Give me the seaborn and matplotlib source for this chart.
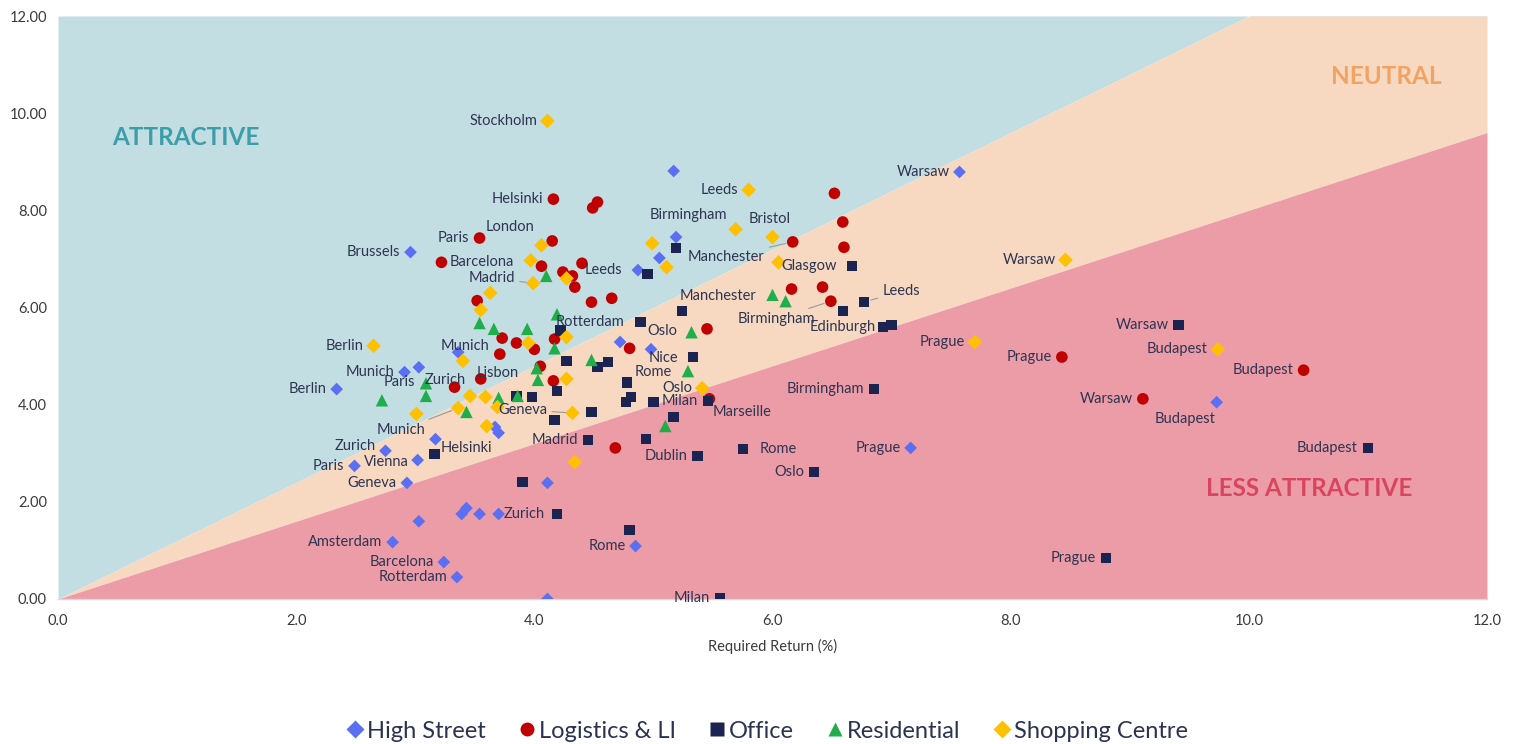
import numpy as np
import pandas as pd
import matplotlib
matplotlib.use("Agg")
import matplotlib.pyplot as plt
from matplotlib.lines import Line2D
import seaborn as sns

# ---- data: required return (%) vs. expected return (%) ----
hs_x = [5.17, 7.57, 2.96, 5.19, 5.05, 4.87, 4.72, 4.98, 2.34, 2.91, 3.03, 3.36, 3.70, 3.67, 3.17,
        2.75, 3.02, 2.49, 2.93, 3.03, 3.39, 3.43, 3.54, 3.70, 4.11, 2.81, 3.24, 3.35, 4.11, 4.85,
        7.16, 9.73]
hs_y = [8.81, 8.79, 7.14, 7.45, 7.02, 6.77, 5.29, 5.14, 4.32, 4.67, 4.77, 5.08, 3.42, 3.54, 3.29,
        3.05, 2.86, 2.74, 2.39, 1.60, 1.75, 1.87, 1.75, 1.75, 2.39, 1.17, 0.76, 0.45, 0.00, 1.09,
        3.11, 4.05]
hs_lbl = ["", "Warsaw", "Brussels", "", "", "", "", "Nice", "Berlin", "Munich", "Paris", "", "", "", "",
          "Zurich", "Vienna", "Paris", "Geneva", "", "", "", "", "Zurich", "", "Amsterdam", "Barcelona",
          "Rotterdam", "", "Rome", "Prague", "Budapest"]

lg_x = [4.16, 4.49, 4.53, 3.54, 4.15, 3.22, 4.06, 4.24, 4.32, 4.34, 4.40, 3.52, 4.48, 4.65, 6.52,
        6.59, 6.60, 6.17, 6.16, 6.42, 6.49, 5.45, 3.73, 3.85, 4.00, 3.71, 4.17, 4.05, 3.55, 3.33,
        4.16, 4.80, 5.47, 4.68, 8.43, 10.46, 9.11]
lg_y = [8.23, 8.05, 8.17, 7.43, 7.37, 6.93, 6.85, 6.73, 6.65, 6.42, 6.91, 6.14, 6.11, 6.19, 8.35,
        7.76, 7.24, 7.35, 6.38, 6.42, 6.13, 5.56, 5.37, 5.27, 5.14, 5.04, 5.35, 4.79, 4.53, 4.36,
        4.49, 5.16, 4.12, 3.11, 4.98, 4.71, 4.12]
lg_lbl = ["Helsinki", "", "", "Paris", "London", "Barcelona", "", "", "Leeds", "", "", "", "", "", "",
          "", "", "Manchester", "", "", "Birmingham", "", "", "", "", "Munich", "", "", "Lisbon", "",
          "", "", "Marseille", "", "Prague", "Budapest", "Warsaw"]

of_x = [5.19, 4.95, 6.67, 6.77, 6.59, 6.93, 7.00, 5.24, 4.89, 4.22, 4.27, 4.53, 4.62, 4.19, 3.98,
        3.85, 4.17, 4.48, 4.45, 3.16, 5.33, 4.78, 4.81, 4.77, 5.00, 5.17, 5.46, 4.94, 5.37, 5.75,
        6.35, 6.85, 3.90, 4.19, 4.80, 5.56, 9.41, 11.00, 8.80]
of_y = [7.22, 6.69, 6.85, 6.11, 5.93, 5.60, 5.64, 5.93, 5.70, 5.53, 4.90, 4.77, 4.88, 4.28, 4.16,
        4.18, 3.68, 3.85, 3.27, 2.98, 4.98, 4.46, 4.16, 4.05, 4.05, 3.74, 4.07, 3.29, 2.94, 3.09,
        2.61, 4.32, 2.41, 1.75, 1.42, 0.02, 5.64, 3.11, 0.84]
of_lbl = ["", "", "", "Leeds", "", "Edinburgh", "", "Manchester", "Oslo", "Rotterdam", "", "", "", "", "",
          "", "", "", "Madrid", "Helsinki", "", "Rome", "", "", "", "", "Milan", "", "Dublin", "Rome",
          "Oslo", "Birmingham", "", "", "", "Milan", "Warsaw", "Budapest", "Prague"]

rs_x = [4.10, 4.19, 3.54, 3.66, 3.94, 4.17, 4.48, 4.02, 4.03, 3.09, 3.09, 2.72, 3.86, 3.70, 3.43,
        6.00, 6.11, 5.32, 5.29, 5.10]
rs_y = [6.65, 5.86, 5.68, 5.56, 5.56, 5.16, 4.92, 4.75, 4.51, 4.44, 4.18, 4.09, 4.18, 4.14, 3.85,
        6.26, 6.13, 5.49, 4.69, 3.56]
rs_lbl = ["", "", "", "", "", "", "", "", "", "Zurich", "", "", "", "", "",
          "", "", "", "", ""]

sc_x = [4.11, 4.06, 3.97, 3.99, 4.27, 3.63, 5.80, 5.69, 6.00, 4.99, 5.11, 6.05, 3.55, 2.65, 3.40,
        3.95, 4.27, 4.27, 3.46, 3.59, 3.36, 3.69, 3.01, 3.60, 4.32, 4.34, 5.41, 8.46, 7.70, 9.74]
sc_y = [9.84, 7.28, 6.97, 6.50, 6.60, 6.30, 8.42, 7.61, 7.45, 7.32, 6.83, 6.93, 5.95, 5.21, 4.90,
        5.27, 5.39, 4.53, 4.18, 4.16, 3.93, 3.95, 3.81, 3.56, 3.83, 2.82, 4.34, 6.98, 5.29, 5.14]
sc_lbl = ["Stockholm", "", "", "Madrid", "", "", "Leeds", "Birmingham", "Bristol", "", "", "Glasgow", "",
          "Berlin", "", "", "", "", "", "", "Munich", "", "", "", "Geneva", "", "Oslo", "Warsaw",
          "Prague", "Budapest"]

sectors = ["High Street", "Logistics & LI", "Office", "Residential", "Shopping Centre"]

# ---- styling ----
colors = {"High Street": "#5a6ff2", "Logistics & LI": "#c00000", "Office": "#1b2450",
          "Residential": "#1fae4a", "Shopping Centre": "#ffc000"}
markers = {"High Street": "D", "Logistics & LI": "o", "Office": "s",
           "Residential": "^", "Shopping Centre": "D"}
sizes = {"High Street": 42, "Logistics & LI": 70, "Office": 56,
         "Residential": 80, "Shopping Centre": 56}

# label placement: (dx px, dy px, ha, leader line)
placement = {
    ("High Street", 7): (12, -9, "center", False),
    ("High Street", 10): (-4, -15, "right", False),
    ("High Street", 15): (-10, 5, "right", False),
    ("High Street", 16): (-9, -2, "right", False),
    ("High Street", 23): (5, 0, "left", False),
    ("High Street", 31): (-32, -17, "center", False),
    ("Logistics & LI", 4): (-18, 14, "right", False),
    ("Logistics & LI", 5): (8, 0, "left", False),
    ("Logistics & LI", 8): (12, 6, "left", False),
    ("Logistics & LI", 17): (-28, -15, "right", True),
    ("Logistics & LI", 20): (-16, -18, "right", True),
    ("Logistics & LI", 25): (-10, 8, "right", False),
    ("Logistics & LI", 28): (17, 6, "center", False),
    ("Logistics & LI", 32): (3, -13, "left", False),
    ("Office", 3): (18, 11, "left", True),
    ("Office", 5): (-7, 0, "right", False),
    ("Office", 7): (36, 15, "center", False),
    ("Office", 8): (7, -9, "left", False),
    ("Office", 9): (-5, 8, "left", False),
    ("Office", 19): (6, 6, "left", False),
    ("Office", 21): (7, 10, "left", False),
    ("Office", 29): (17, 0, "left", False),
    ("Residential", 9): (19, 3, "center", False),
    ("Shopping Centre", 3): (-18, 5, "right", True),
    ("Shopping Centre", 7): (-8, 14, "right", False),
    ("Shopping Centre", 8): (-3, 18, "center", False),
    ("Shopping Centre", 11): (3, -4, "left", False),
    ("Shopping Centre", 20): (-33, -22, "right", True),
    ("Shopping Centre", 24): (-25, 3, "right", True),
}

frames = []
for name, xs, ys, lb in zip(sectors, [hs_x, lg_x, of_x, rs_x, sc_x], [hs_y, lg_y, of_y, rs_y, sc_y],
                            [hs_lbl, lg_lbl, of_lbl, rs_lbl, sc_lbl]):
    frames.append(pd.DataFrame({"ret": xs, "yld": ys, "sector": name, "label": lb,
                                "idx": range(len(xs))}))
df = pd.concat(frames, ignore_index=True)

sns.set_theme(style="white")
plt.rcParams["font.family"] = ["Lato", "DejaVu Sans"]

fig = plt.figure(figsize=(15.15, 7.44), dpi=100)
ax = fig.add_axes([58 / 1515, 145 / 744, 1429 / 1515, 583 / 744])

# attractiveness zones
xs = np.linspace(0, 12, 200)
ax.fill_between(xs, 1.2 * xs, 12, color="#c3dee2", lw=0, zorder=0)
ax.fill_between(xs, 0.8 * xs, np.minimum(1.2 * xs, 12), color="#f7d9c1", lw=0, zorder=0)
ax.fill_between(xs, 0, 0.8 * xs, color="#ec9ca7", lw=0, zorder=0)

for name in sectors:
    sub = df[df["sector"] == name]
    sns.scatterplot(data=sub, x="ret", y="yld", color=colors[name], marker=markers[name],
                    s=sizes[name], edgecolor="none", linewidth=0, ax=ax, zorder=3, legend=False)

label_color = "#2e3452"
for _, r in df[df["label"] != ""].iterrows():
    dx, dy, ha, leader = placement.get((r["sector"], r["idx"]), (-10, 0, "right", False))
    kw = {}
    if leader:
        kw["arrowprops"] = dict(arrowstyle="-", color="#9a9a9a", lw=0.8, shrinkA=1, shrinkB=5)
    ax.annotate(r["label"], (r["ret"], r["yld"]), xytext=(dx, dy), textcoords="offset pixels",
                ha=ha, va="center", fontsize=10.5, color=label_color, zorder=4, **kw)

# zone titles
ax.text(1.07, 9.5, "ATTRACTIVE", color="#3b9ea8", fontsize=17.5, fontweight="bold",
        ha="center", va="center", zorder=2)
ax.text(11.15, 10.75, "NEUTRAL", color="#f2a263", fontsize=17.5, fontweight="bold",
        ha="center", va="center", zorder=2)
ax.text(10.51, 2.27, "LESS ATTRACTIVE", color="#d8455f", fontsize=17.5, fontweight="bold",
        ha="center", va="center", zorder=2)

ax.set_xlim(0, 12)
ax.set_ylim(0, 12)
ax.set_xticks(np.arange(0, 12.1, 2))
ax.set_yticks(np.arange(0, 12.1, 2))
ax.set_xticklabels([f"{v:.1f}" for v in np.arange(0, 12.1, 2)])
ax.set_yticklabels([f"{v:.2f}" for v in np.arange(0, 12.1, 2)])
ax.tick_params(axis="both", length=0, labelsize=10.5, colors="#3a3a3a")
ax.tick_params(axis="x", pad=11)
ax.tick_params(axis="y", pad=8)
ax.set_xlabel("Required Return (%)", fontsize=10.5, color="#3a3a3a", labelpad=8)
ax.set_ylabel("")
for sp in ["top", "right", "left"]:
    ax.spines[sp].set_visible(False)
ax.spines["bottom"].set_color("#d9d9d9")
ax.spines["bottom"].set_linewidth(1.0)

handles = [Line2D([0], [0], marker=markers[n], color="none", markerfacecolor=colors[n],
                  markeredgecolor="none", markersize=10 if markers[n] != "D" else 9, label=n)
           for n in sectors]
leg = fig.legend(handles=handles, loc="center", bbox_to_anchor=(766 / 1515, 13 / 744), ncol=5,
                 frameon=False, fontsize=17, handletextpad=0.05, columnspacing=1.3,
                 handlelength=0.9)
for t in leg.get_texts():
    t.set_color("#2b3350")

fig.savefig("out.png", dpi=100, facecolor="white")
